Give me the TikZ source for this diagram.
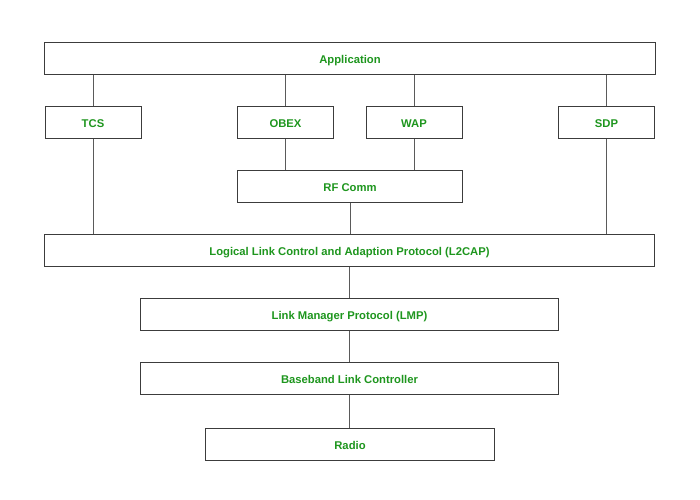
\documentclass[tikz,border=0pt]{standalone}
\usepackage{fontspec}
\setmainfont{Liberation Sans}
\definecolor{lbl}{RGB}{30,150,30}
\definecolor{edge}{RGB}{60,60,60}
\definecolor{wire}{RGB}{90,90,90}
\begin{document}
\begin{tikzpicture}[x=1bp,y=-1bp,
  layer/.style={draw=edge,line width=1bp,fill=white,inner sep=0pt,
    text height=10.5bp,text depth=0bp,
    font=\fontsize{11.3}{13}\selectfont\bfseries,text=lbl},
  wireline/.style={draw=wire,line width=1bp}]
\useasboundingbox (0,0) rectangle (700,500);
\node[layer,minimum width=610bp,minimum height=32bp] (app) at (350,58.5) {Application};
\node[layer,minimum width=96bp,minimum height=32bp] (tcs) at (93,122.5) {TCS};
\node[layer,minimum width=96bp,minimum height=32bp] (obex) at (285.5,122.5) {OBEX};
\node[layer,minimum width=96bp,minimum height=32bp] (wap) at (414,122.5) {WAP};
\node[layer,minimum width=96bp,minimum height=32bp] (sdp) at (606.5,122.5) {SDP};
\node[layer,minimum width=225bp,minimum height=32bp] (rf) at (350,186.5) {RF Comm};
\node[layer,minimum width=610bp,minimum height=32bp] (l2cap) at (349.5,250.5) {Logical Link Control and Adaption Protocol (L2CAP)};
\node[layer,minimum width=418bp,minimum height=32bp] (lmp) at (349.5,314) {Link Manager Protocol (LMP)};
\node[layer,minimum width=418bp,minimum height=32bp] (bb) at (349.5,378) {Baseband Link Controller};
\node[layer,minimum width=289bp,minimum height=32bp] (radio) at (350,444) {Radio};
\draw[wireline] (tcs.north) -- (tcs.north |- app.south);
\draw[wireline] (obex.north) -- (obex.north |- app.south);
\draw[wireline] (wap.north) -- (wap.north |- app.south);
\draw[wireline] (sdp.north) -- (sdp.north |- app.south);
\draw[wireline] (obex.south) -- (obex.south |- rf.north);
\draw[wireline] (wap.south) -- (wap.south |- rf.north);
\draw[wireline] (tcs.south) -- (tcs.south |- l2cap.north);
\draw[wireline] (sdp.south) -- (sdp.south |- l2cap.north);
\draw[wireline] (rf.south) -- (rf.south |- l2cap.north);
\draw[wireline] (l2cap.south) -- (lmp.north);
\draw[wireline] (lmp.south) -- (bb.north);
\draw[wireline] (bb.south) -- (bb.south |- radio.north);
\end{tikzpicture}
\end{document}
